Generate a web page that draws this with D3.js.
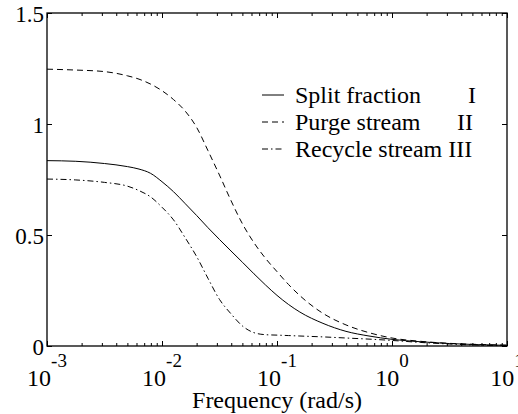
<!DOCTYPE html>
<html><head><meta charset="utf-8">
<script src="https://cdn.jsdelivr.net/npm/d3@7/dist/d3.min.js"></script>
<style>
html,body{margin:0;padding:0;background:#fff;}
text{font-family:"Liberation Serif","Times New Roman",serif;fill:#000;}
</style></head>
<body><svg id="c" width="518" height="414"></svg>
<script>
// ---- data ----
const freq = [0.001,0.00178,0.00316,0.00501,0.00631,0.00794,0.01,0.0126,0.0158,0.02,0.0251,0.0316,0.0398,0.0501,0.0631,0.0794,0.1,0.126,0.158,0.251,0.398,0.631,1,1.78,3.16,5.62,10];
const splitFraction = [0.835,0.832,0.822,0.808,0.797,0.778,0.74,0.695,0.643,0.588,0.533,0.48,0.428,0.377,0.325,0.275,0.228,0.187,0.153,0.102,0.066,0.045,0.030,0.019,0.011,0.006,0.003];
const purgeStream = [1.247,1.243,1.236,1.217,1.202,1.18,1.15,1.11,1.06,0.985,0.88,0.77,0.655,0.55,0.465,0.395,0.335,0.277,0.227,0.147,0.095,0.06,0.036,0.021,0.012,0.007,0.004];
const recycleStream = [0.752,0.748,0.737,0.72,0.70,0.672,0.625,0.568,0.49,0.403,0.305,0.21,0.145,0.09,0.06,0.051,0.049,0.047,0.045,0.041,0.036,0.031,0.025,0.016,0.009,0.004,0.001];
const seriesNames = ["Split fraction","Purge stream","Recycle stream III"];
const seriesTags = ["I","II",""];
const xTickExp = ["-3","-2","-1","0","1"];
const xTickVals = [0.001,0.01,0.1,1,10];
const yTickVals = [0,0.5,1,1.5];
const yTickLabels = ["0","0.5","1","1.5"];
const xLabel = "Frequency (rad/s)";

// ---- layout ----
const L=47,R=507,T=13,B=346;
const svg=d3.select("#c");
const x=d3.scaleLog().domain([0.001,10]).range([L,R]);
const y=d3.scaleLinear().domain([0,1.5]).range([B,T]);

const minor=[];
for(let d=-3;d<1;d++){for(let k=2;k<=9;k++){minor.push(k*Math.pow(10,d));}}

function styleAxis(g){g.select(".domain").remove();g.selectAll("line").attr("stroke","#000").attr("stroke-width",1);}
svg.append("g").attr("transform",`translate(0,${B})`).call(d3.axisBottom(x).tickValues(xTickVals).tickSize(-5).tickFormat("")).call(styleAxis);
svg.append("g").attr("transform",`translate(0,${B})`).call(d3.axisBottom(x).tickValues(minor).tickSize(-3).tickFormat("")).call(styleAxis);
svg.append("g").attr("transform",`translate(0,${T})`).call(d3.axisTop(x).tickValues(xTickVals).tickSize(-5).tickFormat("")).call(styleAxis);
svg.append("g").attr("transform",`translate(0,${T})`).call(d3.axisTop(x).tickValues(minor).tickSize(-3).tickFormat("")).call(styleAxis);
svg.append("g").attr("transform",`translate(${L},0)`).call(d3.axisLeft(y).tickValues(yTickVals).tickSize(-5).tickFormat("")).call(styleAxis);
svg.append("g").attr("transform",`translate(${R},0)`).call(d3.axisRight(y).tickValues(yTickVals).tickSize(-5).tickFormat("")).call(styleAxis);

svg.append("rect").attr("x",L).attr("y",T).attr("width",R-L).attr("height",B-T)
  .attr("fill","none").attr("stroke","#000").attr("stroke-width",1.3);

// x tick labels
xTickVals.forEach((v,i)=>{
  const t=svg.append("text").attr("x",x(v)).attr("y",386).attr("text-anchor","middle").style("font-size","24px");
  t.append("tspan").text("10");
  t.append("tspan").attr("dy",-19).style("font-size","19px").text(xTickExp[i]);
});
// y tick labels
yTickVals.forEach((v,i)=>{
  svg.append("text").attr("x",44).attr("y",y(v)+9).attr("text-anchor","end").style("font-size","23px").text(yTickLabels[i]);
});
svg.append("text").attr("x",(L+R)/2).attr("y",408).attr("text-anchor","middle").style("font-size","24px").text(xLabel);

// lines
const dashes=[null,"6,4","6,3,1.5,3"];
const data=[splitFraction,purgeStream,recycleStream];
const line=d3.line().x((d,i)=>x(freq[i])).y(d=>y(d)).curve(d3.curveMonotoneX);
data.forEach((s,k)=>{
  svg.append("path").datum(s).attr("d",line).attr("fill","none").attr("stroke","#000")
    .attr("stroke-width",1).attr("stroke-dasharray",dashes[k]);
});

// legend
const rowY=[95,122,149];
seriesNames.forEach((n,k)=>{
  svg.append("line").attr("x1",262).attr("x2",284).attr("y1",rowY[k]).attr("y2",rowY[k])
    .attr("stroke","#000").attr("stroke-width",1).attr("stroke-dasharray",dashes[k]);
  svg.append("text").attr("x",295).attr("y",rowY[k]+8).style("font-size","24px").text(n);
});
const tagX=[468,457];
seriesTags.forEach((t,k)=>{
  if(t) svg.append("text").attr("x",tagX[k]).attr("y",rowY[k]+8).style("font-size","24px").text(t);
});
</script></body></html>
